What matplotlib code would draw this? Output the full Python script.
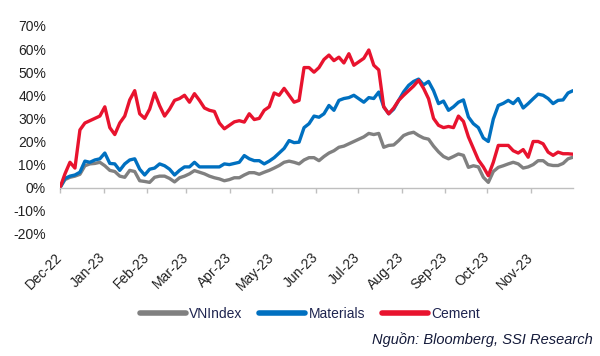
import matplotlib
matplotlib.use("Agg")
import matplotlib.pyplot as plt
import matplotlib.ticker as mticker
import pandas as pd
import numpy as np

plt.rcParams['font.family'] = ['Liberation Sans Narrow', 'Liberation Sans', 'DejaVu Sans']

start_date = "2022-12-08"
end_date = "2023-12-08"

vnindex = [0, 3.5, 4.5, 5, 5.8, 9.5, 10.3, 10.5, 11, 9.5, 7.5, 7, 5, 4.5, 7.5, 7, 3, 2.7, 2.3, 4.5,
           5, 5, 4, 2.5, 4.3, 5, 6, 7.4, 6.7, 6, 5, 4.3, 3.8, 3, 3.5, 4.3, 4.3, 5.5, 6.5, 6.5,
           5.8, 6.7, 7.5, 8.5, 9.6, 11, 11.5, 11, 10.3, 12, 13, 13, 11.7, 13.5, 15, 16, 17.5, 18, 19, 20,
           21, 22, 23.5, 23, 23.5, 17.5, 18.3, 18.5, 20.4, 22.6, 23.5, 24, 22.6, 21.5, 21, 18, 15.5, 13.5, 12.5, 13.5,
           14.6, 14, 8.8, 9.5, 9, 4.5, 2.3, 7, 8.8, 9.5, 10.3, 11, 10.3, 8.5, 9, 10, 11.7, 11.7, 10, 9.6,
           9.6, 10.5, 12.5, 13.2]

materials = [0, 4, 5, 5.5, 6.7, 11.5, 11, 12, 12.5, 15, 10.5, 10.3, 7.5, 10.3, 12, 12.5, 8, 5.5, 8, 8.5,
             10.3, 9.5, 8, 5.5, 7.5, 9, 9, 11, 9, 9, 9, 9, 9, 10.3, 10, 10.5, 11, 13.9, 12.5, 11.7,
             11.7, 10.3, 11.5, 13, 15, 17, 20.4, 19.5, 19.7, 26, 27.7, 31, 30.5, 32, 35.6, 33.5, 37.8, 38.6, 39, 40,
             38.5, 37, 39, 38.6, 41.4, 35, 32, 34, 37.8, 41.5, 44.3, 46, 47, 44.5, 46, 42, 36.4, 37.5, 33.5, 35,
             37, 38, 30.6, 27.7, 26, 21.5, 20, 29.7, 35.6, 36.5, 37.8, 36.4, 38.6, 34.5, 36.4, 38.5, 40.5, 40, 38.6, 36.4,
             37.8, 38, 41, 42]

cement = [0, 6, 11, 8.5, 25, 28, 29, 30, 31, 35, 26, 23, 28, 31, 38, 42, 32, 30, 34, 41,
          35.5, 31, 34, 37.8, 38.6, 40, 37, 40.7, 37.8, 34.5, 33.5, 33, 28, 25.5, 27, 28.5, 29, 28.4, 32, 29.5,
          30, 33.5, 35, 41, 40, 43, 40, 37, 37.8, 52, 52, 50, 52, 55.5, 57.4, 55, 56.5, 54, 58, 53,
          54.5, 56, 59.6, 53, 51, 35, 32, 34.5, 37.8, 40, 42, 44, 46.5, 43, 38.5, 30, 27, 26, 26.5, 26,
          31, 28.7, 22, 17, 12, 9, 5.2, 11, 18.3, 18.3, 18.3, 16, 15, 16.5, 13.2, 20, 20, 19, 15.4, 14,
          15.4, 14.7, 14.7, 14.5]

series_names = ["VNIndex", "Materials", "Cement"]
colors = ["#808080", "#0070C0", "#E8132E"]
month_labels = ["Dec-22", "Jan-23", "Feb-23", "Mar-23", "Apr-23", "May-23", "Jun-23",
                "Jul-23", "Aug-23", "Sep-23", "Oct-23", "Nov-23"]
y_ticks = [-20, -10, 0, 10, 20, 30, 40, 50, 60, 70]

dates = pd.date_range(start_date, end_date, periods=len(vnindex))
tick_dates = pd.date_range(start_date, periods=len(month_labels), freq=pd.DateOffset(months=1))

fig = plt.figure(figsize=(6.0, 3.56), dpi=100)
ax = fig.add_axes([0.1, 0.343, 0.855, 0.584])

for name, vals, c in zip(series_names, [vnindex, materials, cement], colors):
    ax.plot(dates, np.array(vals) / 100.0, color=c, lw=2.4, label=name, solid_capstyle='round')

ax.set_xlim(pd.Timestamp(start_date), pd.Timestamp(end_date))
ax.set_ylim(-0.2, 0.7)
ax.set_yticks([v / 100 for v in y_ticks])
ax.yaxis.set_major_formatter(mticker.FuncFormatter(lambda v, p: f"{v*100:.0f}%"))

for s in ['top', 'right', 'left']:
    ax.spines[s].set_visible(False)
ax.spines['bottom'].set_position(('data', 0))
ax.spines['bottom'].set_color('#BFBFBF')
ax.spines['bottom'].set_linewidth(1.0)

ax.set_xticks(tick_dates)
ax.set_xticklabels(month_labels, rotation=45, ha='right', va='center', rotation_mode='anchor')
ax.tick_params(axis='x', direction='out', length=3.5, width=1.0, color='#BFBFBF',
               pad=45, labelsize=10, labelcolor='#222222')
ax.tick_params(axis='y', length=0, pad=10, labelsize=10, labelcolor='#222222')

leg = ax.legend(loc='center', ncol=3, frameon=False, fontsize=10, handlelength=3.3,
                handletextpad=0.25, columnspacing=1.2)
leg.set_bbox_to_anchor((310 / 600, 1 - 314 / 356), transform=fig.transFigure)
for line in leg.get_lines():
    line.set_linewidth(4)
for t in leg.get_texts():
    t.set_color('#1F2550')

fig.text(593 / 600, 1 - 340 / 356, "Nguồn: Bloomberg, SSI Research", ha='right', va='center',
         fontsize=10.5, style='italic', color='#141a3a')

fig.savefig("out.png", dpi=100, facecolor='white')
